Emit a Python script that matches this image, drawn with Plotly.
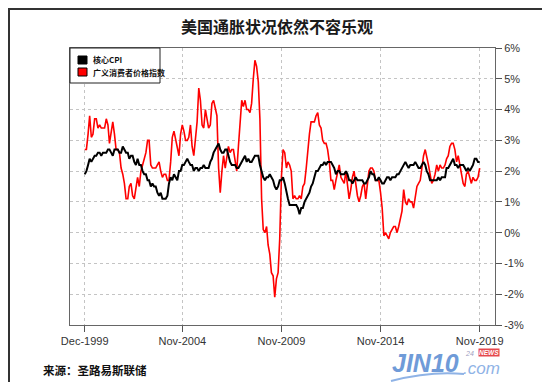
import plotly.graph_objects as go
import pandas as pd

# ---------------- data (monthly YoY %, Dec-1999 .. Nov-2019) ----------------
start_month = "1999-12-01"
series_names = ["核心CPI", "广义消费者价格指数"]

core_cpi = [
    1.9,
    2.0, 2.2, 2.4, 2.3, 2.4, 2.5, 2.5, 2.6, 2.6, 2.5, 2.6, 2.6,
    2.6, 2.7, 2.7, 2.6, 2.5, 2.7, 2.7, 2.7, 2.6, 2.6, 2.8, 2.7,
    2.6, 2.6, 2.4, 2.5, 2.5, 2.3, 2.2, 2.4, 2.2, 2.2, 2.0, 1.9,
    1.9, 1.7, 1.7, 1.5, 1.6, 1.5, 1.5, 1.3, 1.2, 1.3, 1.1, 1.1,
    1.1, 1.2, 1.6, 1.8, 1.7, 1.9, 1.8, 1.7, 2.0, 2.0, 2.2, 2.2,
    2.3, 2.4, 2.3, 2.2, 2.2, 2.0, 2.1, 2.1, 2.0, 2.1, 2.1, 2.2,
    2.1, 2.1, 2.1, 2.3, 2.4, 2.6, 2.7, 2.8, 2.9, 2.7, 2.6, 2.6,
    2.7, 2.7, 2.5, 2.3, 2.2, 2.2, 2.2, 2.1, 2.1, 2.2, 2.3, 2.4,
    2.5, 2.3, 2.4, 2.3, 2.3, 2.4, 2.5, 2.5, 2.5, 2.2, 2.0, 1.8,
    1.7, 1.8, 1.8, 1.9, 1.8, 1.7, 1.5, 1.4, 1.5, 1.7, 1.7, 1.8,
    1.6, 1.3, 1.1, 0.9, 0.9, 0.9, 0.9, 0.9, 0.8, 0.6, 0.8, 0.8,
    1.0, 1.1, 1.2, 1.3, 1.5, 1.6, 1.8, 2.0, 2.0, 2.1, 2.2, 2.2,
    2.3, 2.2, 2.3, 2.3, 2.3, 2.2, 2.1, 1.9, 2.0, 2.0, 1.9, 1.9,
    1.9, 2.0, 1.9, 1.7, 1.7, 1.6, 1.7, 1.8, 1.7, 1.7, 1.7, 1.7,
    1.6, 1.6, 1.7, 1.8, 2.0, 1.9, 1.9, 1.7, 1.7, 1.8, 1.7, 1.6,
    1.6, 1.7, 1.8, 1.8, 1.7, 1.8, 1.8, 1.8, 1.9, 1.9, 2.0, 2.1,
    2.2, 2.3, 2.2, 2.1, 2.2, 2.2, 2.2, 2.3, 2.2, 2.1, 2.1, 2.2,
    2.3, 2.2, 2.0, 1.9, 1.7, 1.7, 1.7, 1.7, 1.7, 1.8, 1.7, 1.8,
    1.8, 1.8, 2.1, 2.1, 2.2, 2.3, 2.4, 2.2, 2.2, 2.1, 2.2, 2.2,
    2.2, 2.1, 2.0, 2.1, 2.0, 2.1, 2.2, 2.4, 2.4, 2.3, 2.3,
]

cpi = [
    2.7,
    2.7, 3.2, 3.8, 3.1, 3.2, 3.7, 3.7, 3.4, 3.5, 3.4, 3.4, 3.4,
    3.7, 3.5, 2.9, 3.3, 3.6, 3.2, 2.7, 2.7, 2.6, 2.1, 1.9, 1.6,
    1.1, 1.1, 1.5, 1.6, 1.2, 1.1, 1.5, 1.8, 1.5, 2.0, 2.2, 2.4,
    2.6, 3.0, 3.0, 2.2, 2.1, 2.1, 2.1, 2.2, 2.3, 2.0, 1.8, 1.9,
    1.9, 1.7, 1.7, 2.3, 3.1, 3.3, 3.0, 2.7, 2.5, 3.2, 3.5, 3.3,
    3.0, 3.0, 3.1, 3.5, 2.8, 2.5, 3.2, 3.6, 4.7, 4.3, 3.5, 3.4,
    4.0, 3.6, 3.4, 3.5, 4.2, 4.3, 4.1, 3.8, 2.1, 1.3, 2.0, 2.5,
    2.1, 2.4, 2.8, 2.6, 2.7, 2.7, 2.4, 2.0, 2.8, 3.5, 4.3, 4.1,
    4.3, 4.0, 4.0, 3.9, 4.2, 5.0, 5.6, 5.4, 4.9, 3.7, 1.1, 0.1,
    0.0, 0.2, -0.4, -0.7, -1.3, -1.4, -2.1, -1.5, -1.3, -0.2, 1.8, 2.7,
    2.6, 2.1, 2.3, 2.2, 2.0, 1.1, 1.2, 1.1, 1.1, 1.2, 1.1, 1.5,
    1.6, 2.1, 2.7, 3.2, 3.6, 3.6, 3.6, 3.8, 3.9, 3.5, 3.4, 3.0,
    2.9, 2.9, 2.7, 2.3, 1.7, 1.7, 1.4, 1.7, 2.0, 2.2, 1.8, 1.7,
    1.6, 2.0, 1.5, 1.1, 1.4, 1.8, 2.0, 1.5, 1.2, 1.0, 1.2, 1.5,
    1.6, 1.1, 1.5, 2.0, 2.1, 2.1, 2.0, 1.7, 1.7, 1.7, 1.3, 0.8,
    -0.1, 0.0, -0.1, -0.2, 0.0, 0.1, 0.2, 0.2, 0.0, 0.2, 0.5, 0.7,
    1.4, 1.0, 0.9, 1.1, 1.0, 1.0, 0.8, 1.1, 1.5, 1.6, 1.7, 2.1,
    2.5, 2.7, 2.4, 2.2, 1.9, 1.6, 1.7, 1.9, 2.2, 2.0, 2.2, 2.1,
    2.1, 2.2, 2.4, 2.5, 2.8, 2.9, 2.9, 2.7, 2.3, 2.5, 2.2, 1.9,
    1.6, 1.5, 1.9, 2.0, 1.8, 1.6, 1.8, 1.7, 1.7, 1.8, 2.1,
]

tick_dates = ["1999-12-01", "2004-11-01", "2009-11-01", "2014-11-01", "2019-11-01"]
tick_labels = ["Dec-1999", "Nov-2004", "Nov-2009", "Nov-2014", "Nov-2019"]
y_ticks = list(range(-3, 7))
y_tick_labels = [f"{v}%" for v in y_ticks]

title_text = "美国通胀状况依然不容乐观"
source_text = "来源：圣路易斯联储"

dates = pd.date_range(start_month, periods=len(cpi), freq="MS")

# ---------------- geometry helpers ----------------
W, H = 550, 382
L, R, T, B = 62, 487, 40, 317


def px(x):
    return (x - L) / (R - L)


def py(y):
    return (B - y) / (B - T)


fig = go.Figure()
fig.add_trace(go.Scatter(x=dates, y=cpi, mode="lines", name=series_names[1],
                         line=dict(color="#ff0000", width=1.6), showlegend=False))
fig.add_trace(go.Scatter(x=dates, y=core_cpi, mode="lines", name=series_names[0],
                         line=dict(color="#000000", width=2), showlegend=False))

axis_font = dict(family="Liberation Sans, Arial, sans-serif", size=11, color="#333333")

fig.update_layout(
    width=W, height=H,
    margin=dict(l=L, r=W - R, t=T, b=H - B, pad=0),
    paper_bgcolor="white", plot_bgcolor="white",
    title=dict(text=title_text, x=269 / W, xanchor="center", y=1 - 19 / H, yanchor="middle",
               font=dict(family="Noto Sans CJK SC", size=16, color="#1a1a1a", weight="bold")),
    xaxis=dict(
        type="date", range=["1999-03-05", "2020-08-09"],
        tickmode="array", tickvals=tick_dates, ticktext=tick_labels,
        ticks="outside", ticklen=6, tickcolor="#555555", tickwidth=1,
        showline=True, linecolor="#666666", linewidth=1, mirror=True,
        showgrid=True, gridcolor="#c4c4c4", griddash="dot", gridwidth=1,
        zeroline=False, tickfont=axis_font,
    ),
    yaxis=dict(
        side="right", range=[-3, 6],
        tickmode="array", tickvals=y_ticks, ticktext=y_tick_labels,
        ticks="outside", ticklen=6, tickcolor="#555555", tickwidth=1,
        showline=True, linecolor="#666666", linewidth=1, mirror=True,
        showgrid=True, gridcolor="#c4c4c4", griddash="dot", gridwidth=1,
        zeroline=False, tickfont=axis_font,
    ),
)

shapes = []
annotations = []

# legend (manual, to match the compact boxed legend)
shapes.append(dict(type="rect", xref="paper", yref="paper",
                   x0=px(62), x1=px(152), y0=py(75), y1=py(40),
                   line=dict(color="#222222", width=1), fillcolor="white", layer="above"))
legend_colors = ["#000000", "#ff0000"]
legend_rows = [52, 64]
for name, col, yc in zip(series_names, legend_colors, legend_rows):
    shapes.append(dict(type="rect", xref="paper", yref="paper",
                       x0=px(70), x1=px(79), y0=py(yc + 4), y1=py(yc - 4),
                       line=dict(color="#000000", width=1), fillcolor=col, layer="above"))
    annotations.append(dict(text=name, xref="paper", yref="paper", x=px(83), y=py(yc),
                            xanchor="left", yanchor="middle", showarrow=False,
                            font=dict(family="Noto Sans CJK SC", size=8, color="#111111", weight="bold")))

# source note
annotations.append(dict(text=source_text, xref="paper", yref="paper", x=px(33), y=py(362),
                        xanchor="left", yanchor="middle", showarrow=False,
                        font=dict(family="Noto Sans CJK SC", size=11.5, color="#111111", weight="bold")))

# logo
annotations.append(dict(text="<i><b>JIN10</b></i>", xref="paper", yref="paper", x=px(382), y=py(355),
                        xanchor="left", yanchor="middle", showarrow=False,
                        font=dict(family="Liberation Sans, Arial", size=25, color="#6f9bd8")))
annotations.append(dict(text="<i>.com</i>", xref="paper", yref="paper", x=px(453), y=py(360),
                        xanchor="left", yanchor="middle", showarrow=False,
                        font=dict(family="Liberation Sans, Arial", size=17, color="#8fb3e6")))
annotations.append(dict(text="<i>24</i>", xref="paper", yref="paper", x=px(468), y=py(345),
                        xanchor="right", yanchor="middle", showarrow=False,
                        font=dict(family="Liberation Sans, Arial", size=7, color="#a0a0c0")))
annotations.append(dict(text="<b><i>NEWS</i></b>", xref="paper", yref="paper", x=px(481), y=py(344),
                        xanchor="center", yanchor="middle", showarrow=False,
                        bgcolor="#e5484d", borderpad=0,
                        font=dict(family="Liberation Sans, Arial", size=6.5, color="white")))
# swoosh under logo
sw = [(383, 373), (410, 366), (435, 364), (456, 366)]
path = f"M {px(sw[0][0])},{py(sw[0][1])} C {px(sw[1][0])},{py(sw[1][1])} {px(sw[2][0])},{py(sw[2][1])} {px(sw[3][0])},{py(sw[3][1])}"
shapes.append(dict(type="path", xref="paper", yref="paper", path=path,
                   line=dict(color="#8fb3e6", width=2)))

# outer frame
shapes.append(dict(type="rect", xref="paper", yref="paper",
                   x0=px(1), x1=px(548), y0=py(379), y1=py(1),
                   line=dict(color="#333333", width=2)))

fig.update_layout(shapes=shapes, annotations=annotations)
fig.write_html("out.html")
